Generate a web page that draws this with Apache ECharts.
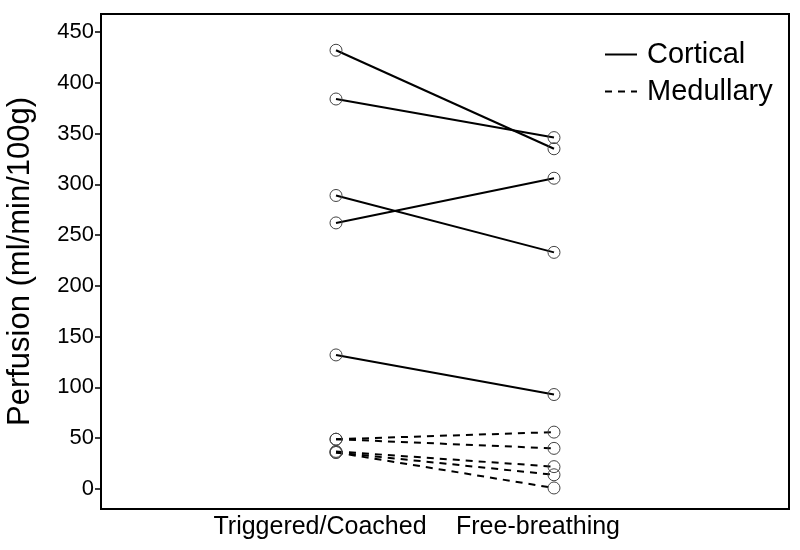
<!DOCTYPE html>
<html>
<head>
<meta charset="utf-8">
<script src="https://cdn.jsdelivr.net/npm/echarts@6/dist/echarts.min.js"></script>
<style>html,body{margin:0;padding:0;background:#fff;}#chart{width:800px;height:550px;}</style>
</head>
<body>
<div id="chart"></div>
<script>
const conditions = ['Triggered/Coached', 'Free-breathing'];
const yTicks = [0, 50, 100, 150, 200, 250, 300, 350, 400, 450];
const corticalTriggered = [432, 384, 289, 262, 132];
const corticalFree = [335, 346, 233, 306, 93];
const medullaryTriggered = [49, 49, 37, 36, 36];
const medullaryFree = [56, 40, 22, 14, 1];

const FONT = 'Liberation Sans, Arial, sans-serif';
const series = [];
function addPairs(name, a, b, dashed) {
  for (let i = 0; i < a.length; i++) {
    series.push({
      name: name,
      type: 'line',
      data: [[0, a[i]], [1, b[i]]],
      symbol: 'circle',
      symbolSize: 12,
      itemStyle: { color: 'rgba(255,255,255,0)', borderColor: '#444', borderWidth: 1 },
      lineStyle: { color: '#000', width: 2, type: dashed ? [7, 6] : 'solid' },
      emphasis: { disabled: true },
      animation: false,
      z: dashed ? 2 : 3
    });
  }
}
addPairs('Cortical', corticalTriggered, corticalFree, false);
addPairs('Medullary', medullaryTriggered, medullaryFree, true);

const chart = echarts.init(document.getElementById('chart'));
chart.setOption({
  backgroundColor: '#fff',
  animation: false,
  grid: { left: 101, top: 14, right: 11, bottom: 41, outerBoundsMode: 'none', containLabel: false, show: true, borderColor: '#000', borderWidth: 2, backgroundColor: 'transparent' },
  legend: {
    data: ['Cortical', 'Medullary'],
    orient: 'vertical',
    left: 599,
    top: 35,
    itemWidth: 32,
    itemHeight: 14,
    itemGap: 8,
    itemStyle: { opacity: 0 },
    textStyle: { fontFamily: FONT, fontSize: 29, color: '#000', padding: [0, 0, 0, 5] }
  },
  xAxis: {
    type: 'value',
    min: -1.078,
    max: 2.078,
    splitLine: { show: false },
    axisLine: { show: false, onZero: false },
    axisTick: { show: false },
    axisLabel: {
      customValues: [0, 1],
      formatter: function (v) { return conditions[Math.round(v)] || ''; },
      fontFamily: FONT, fontSize: 25, color: '#000', margin: 6,
      padding: [0, 32, 0, 0]
    }
  },
  yAxis: {
    type: 'value',
    min: -19.7,
    max: 467.7,
    name: 'Perfusion (ml/min/100g)',
    nameLocation: 'middle',
    nameGap: 65,
    nameTextStyle: { fontFamily: FONT, fontSize: 31, color: '#000' },
    splitLine: { show: false },
    axisLine: { show: false, onZero: false },
    axisTick: { show: true, customValues: yTicks, length: 6, lineStyle: { color: '#000', width: 1.5 } },
    axisLabel: { customValues: yTicks, fontFamily: FONT, fontSize: 22, color: '#000', margin: 7 }
  },
  series: series
});
</script>
</body>
</html>
